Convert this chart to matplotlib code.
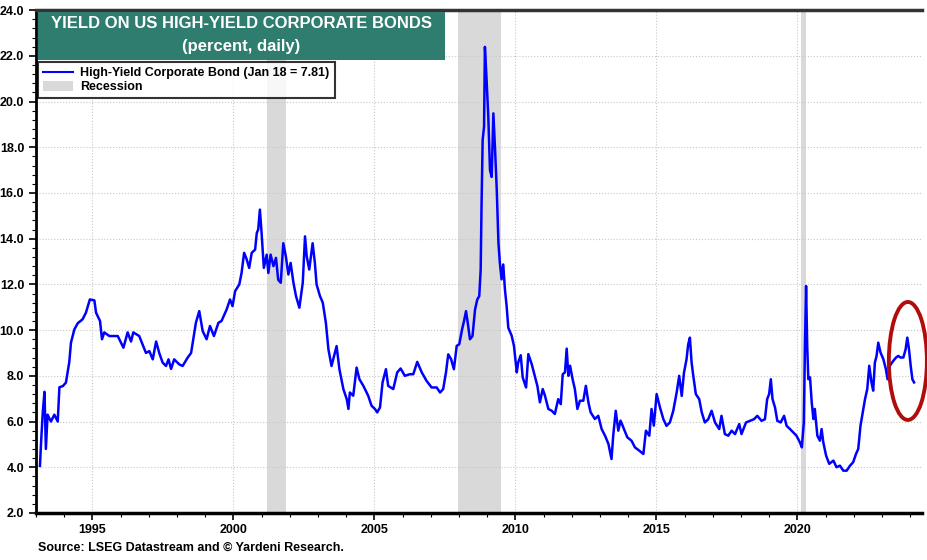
import matplotlib
matplotlib.use("Agg")
import matplotlib.pyplot as plt
from matplotlib.patches import Rectangle, Ellipse, Patch
from matplotlib.lines import Line2D
from matplotlib.ticker import MultipleLocator, FormatStrFormatter

plt.rcParams['font.family'] = ['Liberation Sans', 'DejaVu Sans']
plt.rcParams['font.weight'] = 'bold'

# values (year, percent)
years = [
    1993.14, 1993.18, 1993.24, 1993.30, 1993.35, 1993.41, 1993.53, 1993.65, 1993.77, 1993.83,
    1993.95, 1994.06, 1994.18, 1994.24, 1994.36, 1994.48, 1994.65, 1994.77, 1994.91, 1995.07,
    1995.13, 1995.27, 1995.34, 1995.42, 1995.60, 1995.90, 1996.10, 1996.25, 1996.37, 1996.45,
    1996.66, 1996.78, 1996.90, 1997.02, 1997.14, 1997.26, 1997.37, 1997.49, 1997.61, 1997.70,
    1997.79, 1997.90, 1998.08, 1998.20, 1998.38, 1998.50, 1998.67, 1998.79, 1998.91, 1999.05,
    1999.17, 1999.31, 1999.47, 1999.58, 1999.76, 1999.88, 1999.97, 2000.06, 2000.21, 2000.29,
    2000.38, 2000.47, 2000.56, 2000.65, 2000.77, 2000.83, 2000.88, 2000.94, 2001.00, 2001.08,
    2001.18, 2001.24, 2001.32, 2001.42, 2001.51, 2001.59, 2001.68, 2001.77, 2001.86, 2001.95,
    2002.03, 2002.13, 2002.22, 2002.34, 2002.46, 2002.54, 2002.60, 2002.69, 2002.81, 2002.89,
    2002.95, 2003.07, 2003.17, 2003.28, 2003.37, 2003.48, 2003.66, 2003.76, 2003.90, 2004.02,
    2004.08, 2004.13, 2004.25, 2004.37, 2004.47, 2004.61, 2004.78, 2004.90, 2005.02, 2005.10,
    2005.20, 2005.29, 2005.41, 2005.49, 2005.67, 2005.81, 2005.93, 2006.08, 2006.26, 2006.38,
    2006.52, 2006.68, 2006.85, 2007.03, 2007.21, 2007.33, 2007.44, 2007.54, 2007.62, 2007.72,
    2007.82, 2007.92, 2008.01, 2008.11, 2008.18, 2008.25, 2008.31, 2008.39, 2008.48, 2008.57,
    2008.65, 2008.72, 2008.77, 2008.80, 2008.84, 2008.89, 2008.92, 2008.98, 2009.04, 2009.10,
    2009.16, 2009.22, 2009.28, 2009.34, 2009.40, 2009.45, 2009.51, 2009.57, 2009.63, 2009.69,
    2009.75, 2009.87, 2009.95, 2010.05, 2010.10, 2010.19, 2010.26, 2010.38, 2010.46, 2010.58,
    2010.70, 2010.78, 2010.87, 2010.97, 2011.05, 2011.17, 2011.29, 2011.40, 2011.52, 2011.61,
    2011.68, 2011.76, 2011.82, 2011.88, 2011.94, 2012.03, 2012.11, 2012.20, 2012.29, 2012.41,
    2012.50, 2012.59, 2012.67, 2012.82, 2012.94, 2013.06, 2013.18, 2013.30, 2013.41, 2013.47,
    2013.56, 2013.65, 2013.73, 2013.85, 2013.97, 2014.12, 2014.24, 2014.39, 2014.54, 2014.63,
    2014.75, 2014.83, 2014.91, 2015.01, 2015.13, 2015.25, 2015.36, 2015.48, 2015.60, 2015.72,
    2015.81, 2015.90, 2015.98, 2016.07, 2016.13, 2016.19, 2016.25, 2016.31, 2016.40, 2016.52,
    2016.61, 2016.72, 2016.84, 2016.96, 2017.08, 2017.23, 2017.31, 2017.43, 2017.55, 2017.67,
    2017.79, 2017.94, 2018.02, 2018.18, 2018.32, 2018.46, 2018.58, 2018.73, 2018.85, 2018.93,
    2019.00, 2019.06, 2019.12, 2019.21, 2019.29, 2019.41, 2019.53, 2019.62, 2019.74, 2019.86,
    2019.97, 2020.09, 2020.16, 2020.23, 2020.27, 2020.31, 2020.35, 2020.39, 2020.45, 2020.51,
    2020.57, 2020.62, 2020.71, 2020.80, 2020.86, 2020.92, 2021.02, 2021.13, 2021.28, 2021.39,
    2021.51, 2021.63, 2021.75, 2021.87, 2021.98, 2022.08, 2022.16, 2022.24, 2022.32, 2022.40,
    2022.48, 2022.55, 2022.63, 2022.69, 2022.75, 2022.81, 2022.87, 2022.95, 2023.05, 2023.14,
    2023.20, 2023.28, 2023.40, 2023.50, 2023.58, 2023.66, 2023.76, 2023.84, 2023.90, 2023.96,
    2024.02, 2024.08, 2024.14,
]
yields = [
    4.06, 5.10, 6.40, 7.30, 4.80, 6.30, 6.00, 6.30, 6.00, 7.50,
    7.55, 7.70, 8.60, 9.45, 10.03, 10.30, 10.47, 10.76, 11.34, 11.30,
    10.76, 10.40, 9.60, 9.90, 9.74, 9.74, 9.23, 9.90, 9.50, 9.90,
    9.74, 9.37, 9.00, 9.08, 8.72, 9.50, 9.00, 8.58, 8.43, 8.72,
    8.30, 8.72, 8.50, 8.43, 8.80, 9.00, 10.32, 10.83, 9.96, 9.60,
    10.18, 9.74, 10.32, 10.40, 10.90, 11.34, 11.05, 11.70, 12.00, 12.50,
    13.38, 13.10, 12.72, 13.38, 13.52, 14.25, 14.40, 15.27, 14.25, 12.72,
    13.30, 12.50, 13.30, 12.80, 13.16, 12.20, 12.07, 13.80, 13.23, 12.43,
    12.94, 12.07, 11.49, 10.98, 12.07, 14.10, 13.23, 12.65, 13.80, 12.94,
    12.00, 11.49, 11.20, 10.32, 9.16, 8.43, 9.30, 8.29, 7.42, 6.98,
    6.55, 7.27, 7.13, 8.36, 7.85, 7.56, 7.13, 6.69, 6.55, 6.40,
    6.62, 7.71, 8.29, 7.56, 7.42, 8.15, 8.32, 8.00, 8.07, 8.07,
    8.61, 8.15, 7.78, 7.49, 7.49, 7.27, 7.42, 8.15, 8.94, 8.73,
    8.29, 9.31, 9.38, 10.03, 10.40, 10.83, 10.33, 9.60, 9.74, 10.90,
    11.34, 11.49, 12.65, 15.41, 18.32, 18.90, 22.39, 20.94, 19.34, 17.00,
    16.70, 19.48, 17.90, 16.14, 13.81, 12.95, 12.22, 12.87, 11.78, 11.05,
    10.10, 9.75, 9.31, 8.15, 8.58, 8.90, 7.93, 7.49, 8.95, 8.51,
    7.93, 7.56, 6.84, 7.42, 7.13, 6.55, 6.47, 6.33, 6.98, 6.76,
    8.07, 8.15, 9.19, 8.00, 8.44, 7.85, 7.42, 6.55, 6.91, 6.91,
    7.56, 6.84, 6.40, 6.11, 6.25, 5.67, 5.38, 5.02, 4.36, 5.38,
    6.47, 5.60, 6.04, 5.67, 5.31, 5.16, 4.87, 4.73, 4.58, 5.60,
    5.38, 6.55, 5.82, 7.20, 6.61, 6.10, 5.81, 5.96, 6.47, 7.27,
    8.00, 7.12, 8.14, 8.72, 9.38, 9.67, 8.58, 8.00, 7.20, 6.98,
    6.40, 5.96, 6.10, 6.47, 5.96, 5.67, 6.25, 5.45, 5.38, 5.60,
    5.45, 5.89, 5.45, 5.96, 6.03, 6.10, 6.25, 6.03, 6.10, 6.98,
    7.20, 7.85, 6.98, 6.61, 6.03, 5.96, 6.25, 5.81, 5.67, 5.52,
    5.38, 5.09, 4.87, 5.96, 9.31, 11.93, 9.31, 7.85, 7.93, 6.84,
    6.11, 6.55, 5.38, 5.16, 5.67, 5.09, 4.51, 4.15, 4.29, 4.00,
    4.07, 3.85, 3.85, 4.07, 4.22, 4.58, 4.80, 5.82, 6.40, 6.98,
    7.42, 8.44, 7.71, 7.35, 8.58, 8.87, 9.45, 9.02, 8.73, 8.29,
    7.85, 8.44, 8.65, 8.80, 8.87, 8.80, 8.80, 9.16, 9.67, 9.16,
    8.44, 7.85, 7.71,
]

recession_start = [2001.18, 2007.96, 2020.13]
recession_end = [2001.88, 2009.49, 2020.30]

fig = plt.figure(figsize=(9.28, 5.6), dpi=100)
ax = fig.add_axes([0.0388, 0.084, 0.9547, 0.898])

for s, e in zip(recession_start, recession_end):
    ax.axvspan(s, e, color='#d9d9d9', lw=0, zorder=1)

ax.plot(years, yields, color='#0000ff', lw=1.8, zorder=3)

ax.set_xlim(1993.0, 2024.42)
ax.set_ylim(2, 24)
ax.xaxis.set_major_locator(MultipleLocator(5))
ax.xaxis.set_minor_locator(MultipleLocator(1))
ax.yaxis.set_major_locator(MultipleLocator(2))
ax.yaxis.set_minor_locator(MultipleLocator(0.4))
ax.yaxis.set_major_formatter(FormatStrFormatter('%.1f'))
ax.grid(True, which='major', color='#c8c8c8', ls=':', lw=0.8, zorder=0)

ax.tick_params(axis='both', which='major', direction='out', length=5, width=1.2, labelsize=9)
ax.tick_params(axis='both', which='minor', direction='out', length=3, width=0.8)
ax.tick_params(axis='x', pad=3)
for lab in ax.get_xticklabels() + ax.get_yticklabels():
    lab.set_fontweight('bold')

ax.spines['right'].set_visible(False)
ax.spines['left'].set_linewidth(2)
ax.spines['bottom'].set_linewidth(2.5)
ax.spines['top'].set_linewidth(2.5)
ax.spines['top'].set_color('#333333')

# title box
fig.patches.append(Rectangle((38 / 928, 1 - 60 / 560), 407 / 928, 48 / 560,
                             transform=fig.transFigure, facecolor='#2e7d6f',
                             edgecolor='none', zorder=5))
fig.text(241.5 / 928, 1 - 23 / 560, 'YIELD ON US HIGH-YIELD CORPORATE BONDS', color='white',
         fontsize=12, fontweight='bold', ha='center', va='center', zorder=6)
fig.text(241.5 / 928, 1 - 46 / 560, '(percent, daily)', color='white',
         fontsize=12, fontweight='bold', ha='center', va='center', zorder=6)

handles = [Line2D([], [], color='#0000ff', lw=1.5),
           Patch(facecolor='#d9d9d9', edgecolor='none')]
leg = ax.legend(handles, ['High-Yield Corporate Bond (Jan 18 = 7.81)', 'Recession'],
                loc='upper left', bbox_to_anchor=(38 / 928, 1 - 62 / 560),
                bbox_transform=fig.transFigure, frameon=True, fancybox=False,
                edgecolor='black', fontsize=9, handlelength=2.4, handletextpad=0.6,
                borderpad=0.4, labelspacing=0.15, borderaxespad=0, handleheight=0.8)
leg.get_frame().set_linewidth(1.5)
for t in leg.get_texts():
    t.set_fontweight('bold')
leg.set_zorder(6)

ax.add_patch(Ellipse((2023.92, 8.65), 1.35, 5.16, fill=False, edgecolor='#b00d0d',
                     lw=2.8, clip_on=False, zorder=7))

fig.text(38 / 928, 1 - 548 / 560, 'Source: LSEG Datastream and \u00a9 Yardeni Research.',
         fontsize=9, fontweight='bold', ha='left', va='center')

fig.savefig('out.png', dpi=100)
